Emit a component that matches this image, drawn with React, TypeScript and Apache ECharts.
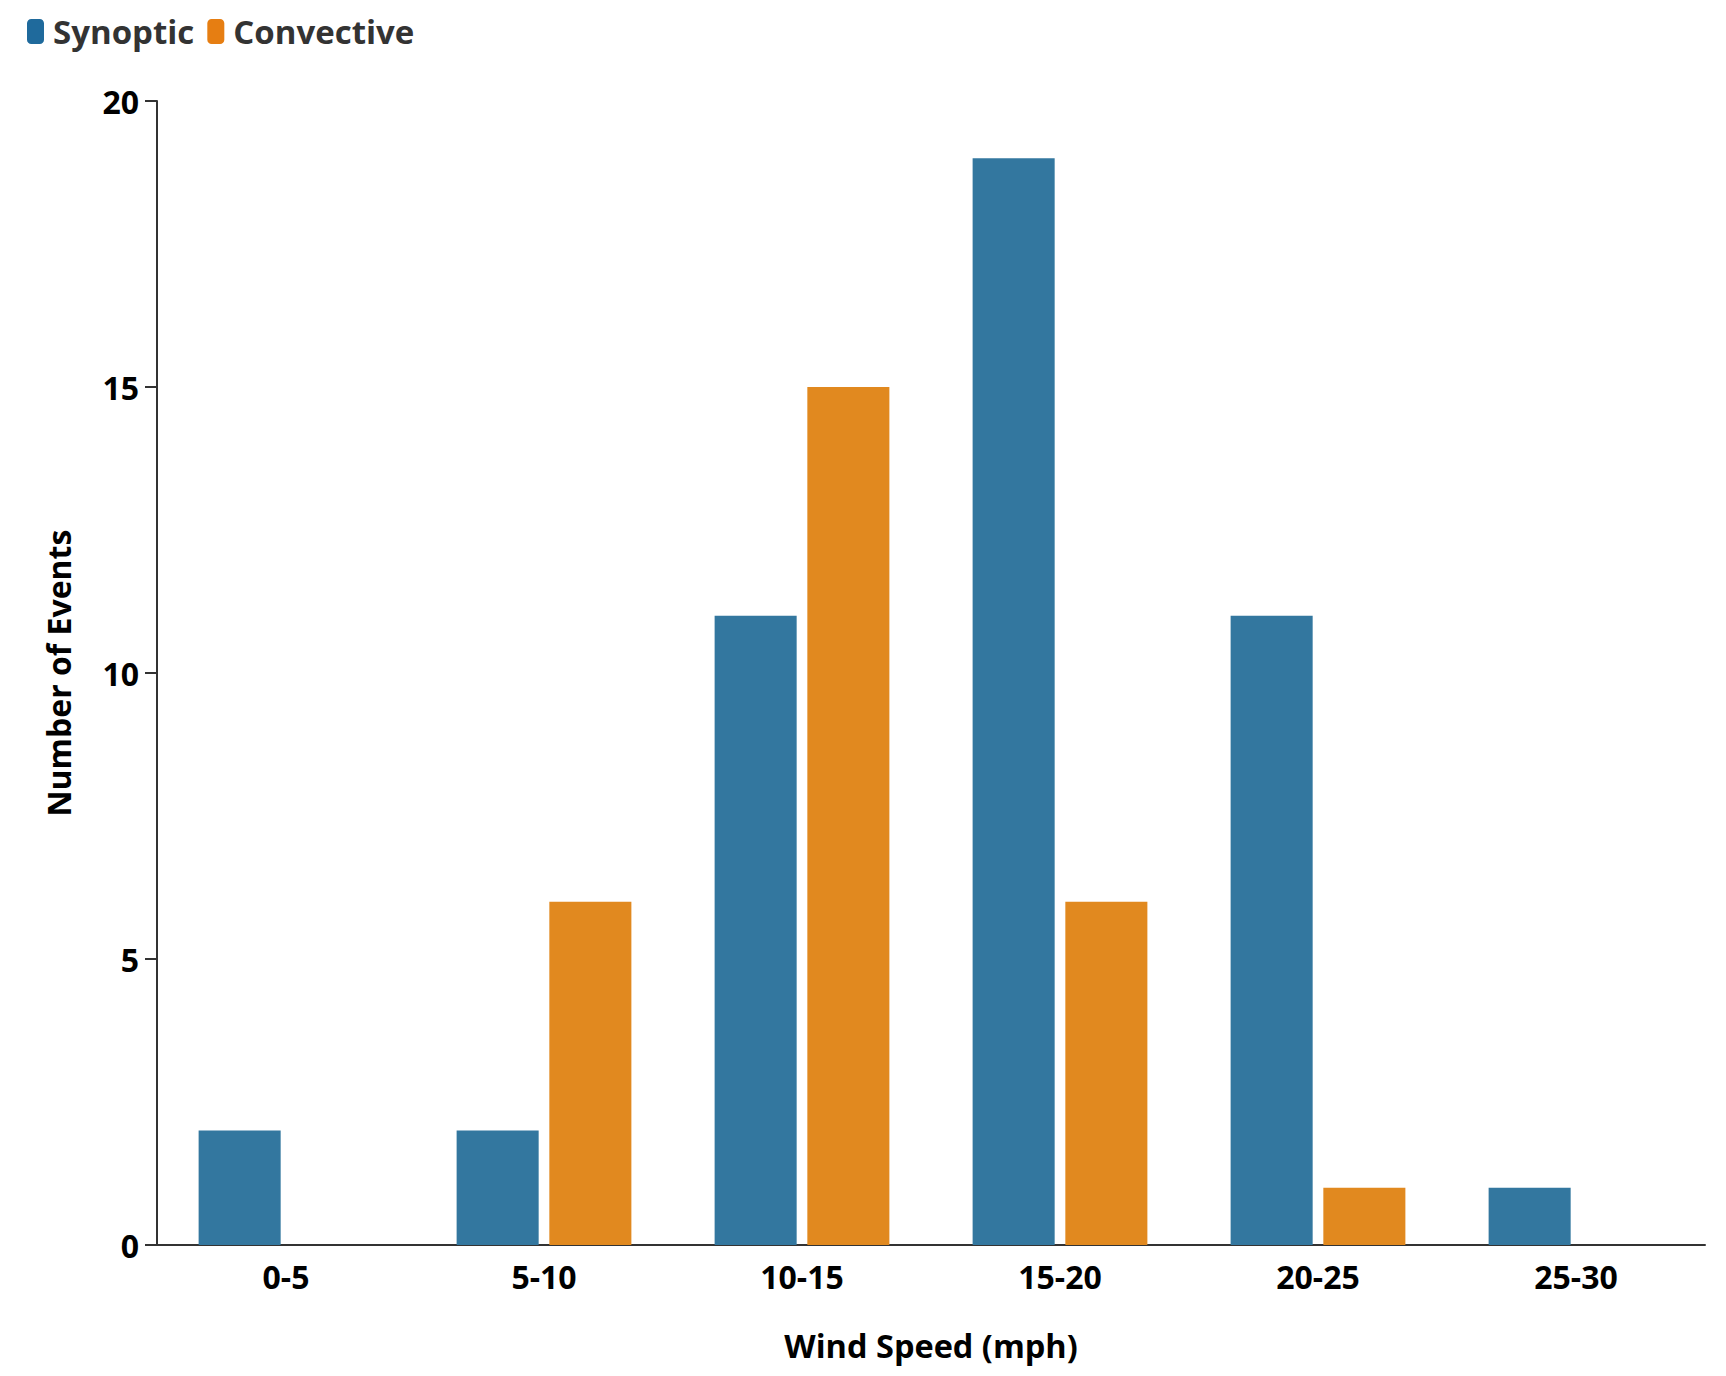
import React, { useEffect, useRef } from "react";
import * as echarts from "echarts";

const categories = ["0-5", "5-10", "10-15", "15-20", "20-25", "25-30"];
const synoptic = [2, 2, 11, 19, 11, 1];
const convective = [0, 6, 15, 6, 1, 0];
const seriesNames = ["Synoptic", "Convective"];

const FONT = "Open Sans";

export default function App() {
  const ref = useRef<HTMLDivElement>(null);
  useEffect(() => {
    if (!ref.current) return;
    const chart = echarts.init(ref.current, undefined, { renderer: "svg" });
    chart.setOption({
      animation: false,
      backgroundColor: "#ffffff",
      textStyle: { fontFamily: FONT },
      legend: {
        left: 22,
        top: 10,
        itemWidth: 17,
        itemHeight: 25,
        itemGap: 13,
        icon: "roundRect",
        textStyle: {
          fontFamily: FONT,
          fontWeight: "bold",
          fontSize: 33,
          color: "#333333",
          padding: [0, 0, 0, 4],
        },
        data: [
          { name: seriesNames[0], itemStyle: { color: "#1f6a9c" } },
          { name: seriesNames[1], itemStyle: { color: "#e67e12" } },
        ],
      },
      grid: { left: 157, right: 21, top: 101, bottom: 131, containLabel: false },
      xAxis: {
        type: "category",
        data: categories,
        name: "Wind Speed (mph)",
        nameLocation: "middle",
        nameGap: 84,
        nameTextStyle: { fontFamily: FONT, fontWeight: "bold", fontSize: 32.5, color: "#000" },
        axisLine: { lineStyle: { color: "#333", width: 2 } },
        axisTick: { alignWithLabel: true, length: 12, lineStyle: { color: "#333", width: 2 } },
        axisLabel: { fontFamily: FONT, fontWeight: "bold", fontSize: 32, color: "#000", margin: 15 },
      },
      yAxis: {
        type: "value",
        min: 0,
        max: 20,
        interval: 5,
        name: "Number of Events",
        nameLocation: "middle",
        nameGap: 83,
        nameRotate: 90,
        nameTextStyle: { fontFamily: FONT, fontWeight: "bold", fontSize: 32, color: "#000" },
        axisLine: { show: true, lineStyle: { color: "#333", width: 2 } },
        axisTick: { show: true, length: 12, lineStyle: { color: "#333", width: 2 } },
        axisLabel: { fontFamily: FONT, fontWeight: "bold", fontSize: 32, color: "#000", margin: 18 },
        splitLine: { show: false },
      },
      series: [
        {
          name: seriesNames[0],
          type: "bar",
          data: synoptic,
          barWidth: "31.8%",
          barGap: "13%",
          itemStyle: { color: "#33779f" },
        },
        {
          name: seriesNames[1],
          type: "bar",
          data: convective,
          barWidth: "31.8%",
          barGap: "13%",
          itemStyle: { color: "#e1891f" },
        },
      ],
    });
    return () => chart.dispose();
  }, []);
  return (
    <div
      ref={ref}
      style={{ position: "fixed", left: 0, top: 0, width: 1726, height: 1376 }}
    />
  );
}
